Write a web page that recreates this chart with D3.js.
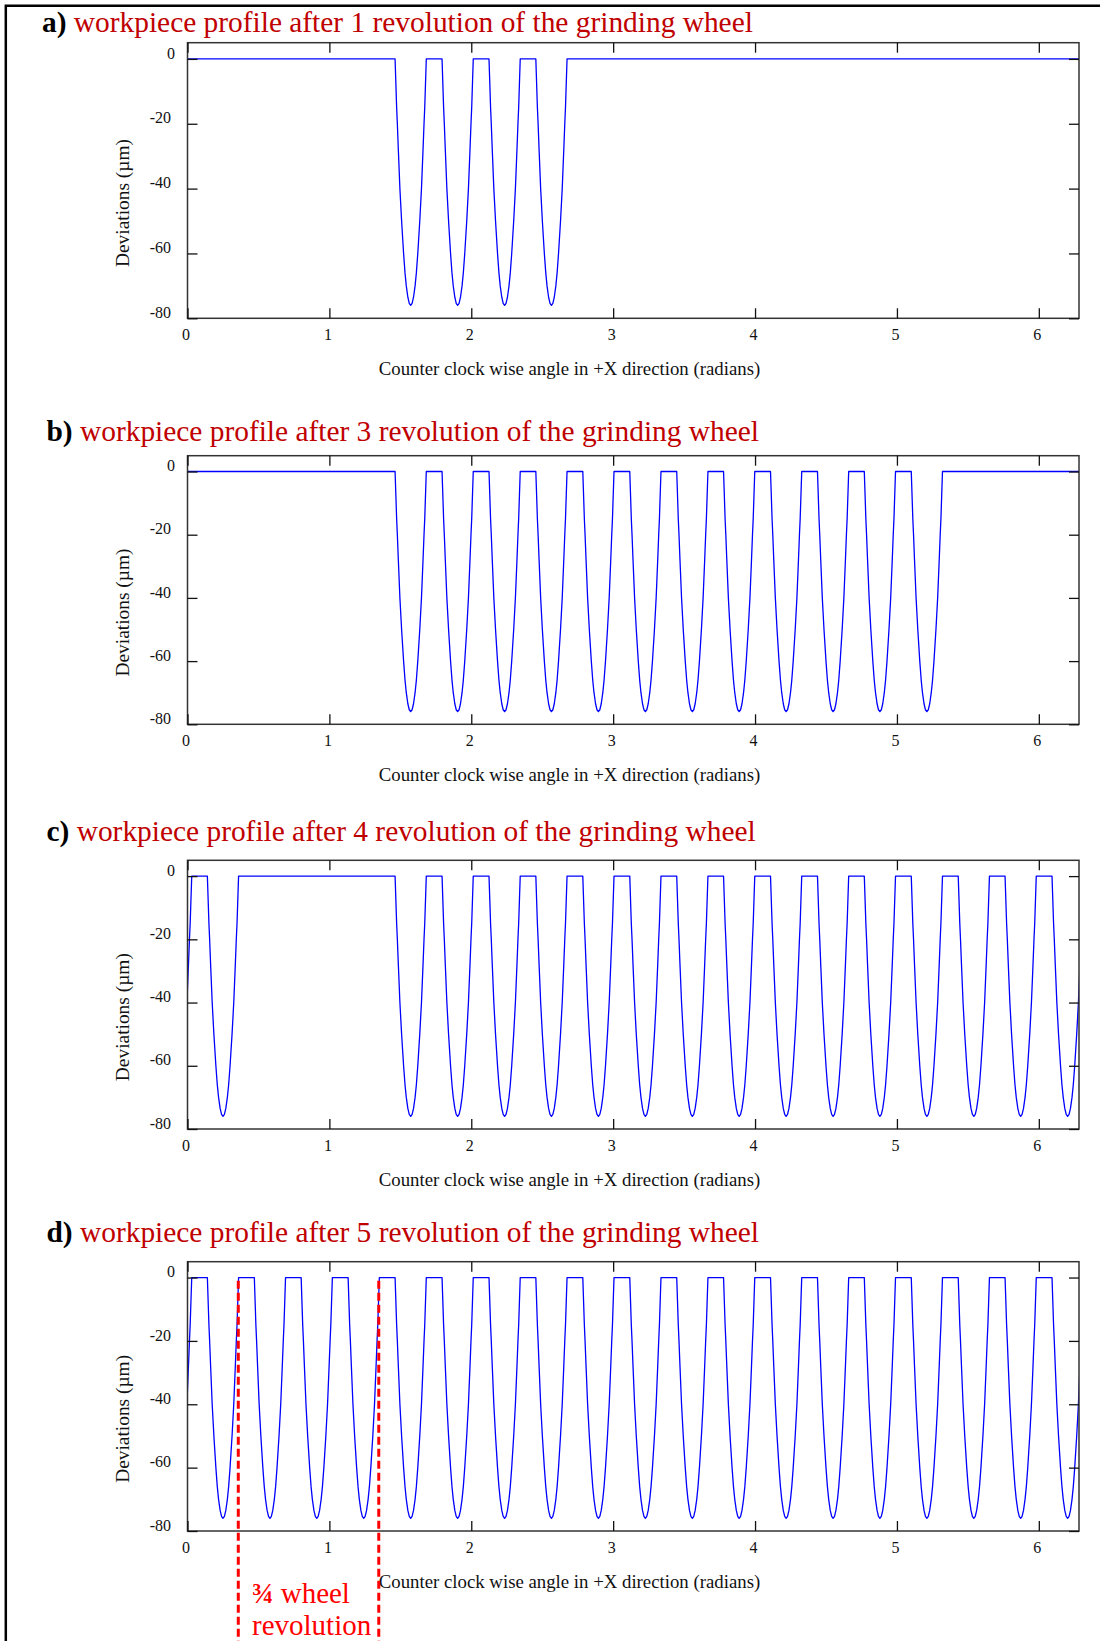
<!DOCTYPE html>
<html>
<head>
<meta charset="utf-8">
<script src="https://cdn.jsdelivr.net/npm/d3@7"></script>
<style>
  html, body { margin: 0; padding: 0; background: #fff; }
  svg { display: block; }
  text { font-family: "Liberation Serif", "Times New Roman", serif; }
</style>
</head>
<body>
<script>
const TAU = 2 * Math.PI;

// Axis ticks
const angleTicks = [0, 1, 2, 3, 4, 5, 6];
const deviationTicks = [0, -20, -40, -60, -80];

// Panel headings
const panelLetters = ["a)", "b)", "c)", "d)"];
const wheelRevolutions = [1, 3, 4, 5];

// Shape of one cut left by the wheel: [angle offset from cut centre (rad), deviation (µm)]
const dipProfile = [
  [-0.110, 0], [-0.099, -15], [-0.094, -20], [-0.087, -28], [-0.076, -40],
  [-0.064, -50], [-0.050, -60], [-0.040, -66], [-0.031, -70], [-0.020, -73.5],
  [-0.010, -75.4], [0, -76], [0.010, -75.4], [0.020, -73.5], [0.031, -70],
  [0.040, -66], [0.050, -60], [0.064, -50], [0.076, -40], [0.087, -28],
  [0.094, -20], [0.099, -15], [0.110, 0]
];

// Cut centres (rad) on the workpiece after each number of wheel revolutions
const cutsA = [1.573, 1.904, 2.235, 2.565];
const cutsB = [1.573, 1.904, 2.235, 2.565, 2.896, 3.227, 3.558, 3.888, 4.219,
               4.550, 4.880, 5.211];
const cutsC = [0.250, 1.573, 1.904, 2.235, 2.565, 2.896, 3.227, 3.558, 3.888,
               4.219, 4.550, 4.880, 5.211, 5.542, 5.872, 6.203];
const cutsD = [0.250, 0.581, 0.911, 1.242, 1.573, 1.904, 2.235, 2.565, 2.896,
               3.227, 3.558, 3.888, 4.219, 4.550, 4.880, 5.211, 5.542, 5.872, 6.203];

// Angles of the dashed markers in panel d (rad)
const markerAngles = [0.358, 1.348];

const panels = [
  { letter: panelLetters[0], rev: wheelRevolutions[0], cuts: cutsA, titleX: 42,   titleY: 31.7,   top: 42.7,   bottom: 318.3 },
  { letter: panelLetters[1], rev: wheelRevolutions[1], cuts: cutsB, titleX: 46.5, titleY: 440.7,  top: 455.7,  bottom: 724.3 },
  { letter: panelLetters[2], rev: wheelRevolutions[2], cuts: cutsC, titleX: 46.5, titleY: 840.7,  top: 860.3,  bottom: 1129 },
  { letter: panelLetters[3], rev: wheelRevolutions[3], cuts: cutsD, titleX: 46.5, titleY: 1241.7, top: 1261.7, bottom: 1531 }
];

const W = 1100, H = 1641;
const plotLeft = 187.5, plotRight = 1079;
const tickLen = 10;
const frameColor = "#333";
const titleRed = "rgb(192,0,0)";
const serif = '"Liberation Serif", "Times New Roman", serif';

const svg = d3.select("body").append("svg")
  .attr("width", W).attr("height", H)
  .attr("viewBox", `0 0 ${W} ${H}`);

// Figure border (left and top edges)
svg.append("path")
  .attr("d", `M5.8,${H} V5.8 H${W}`)
  .attr("fill", "none").attr("stroke", "#000").attr("stroke-width", 2.5);

const x = d3.scaleLinear().domain([0, TAU]).range([plotLeft, plotRight]);

// Profile points for a set of cuts; the profile is periodic in angle,
// so each cut is repeated one turn earlier and later and the plot is clipped.
function profilePoints(cuts) {
  const pts = [[-TAU - 1, 0], [2 * TAU + 1, 0]];
  cuts.forEach(c => {
    [c - TAU, c, c + TAU].forEach(cc => {
      dipProfile.forEach(([o, v]) => pts.push([cc + o, v]));
    });
  });
  return pts.sort((a, b) => a[0] - b[0]);
}

const plainNumber = d => String(d);

panels.forEach((p, i) => {
  const y = d3.scaleLinear().domain([-80, 5]).range([p.bottom, p.top]);
  const g = svg.append("g");

  // Heading
  const title = g.append("text")
    .attr("x", p.titleX).attr("y", p.titleY)
    .attr("font-size", 29.4);
  title.append("tspan").attr("font-weight", "bold").attr("fill", "#000").text(p.letter + " ");
  title.append("tspan").attr("fill", titleRed)
    .text(`workpiece profile after ${p.rev} revolution of the grinding wheel`);

  // Clip for the profile curve
  const clipId = "clip" + i;
  svg.append("clipPath").attr("id", clipId)
    .append("rect")
    .attr("x", plotLeft).attr("y", p.top)
    .attr("width", plotRight - plotLeft).attr("height", p.bottom - p.top);

  const line = d3.line().x(d => x(d[0])).y(d => y(d[1]));
  g.append("path")
    .datum(profilePoints(p.cuts))
    .attr("clip-path", `url(#${clipId})`)
    .attr("d", line)
    .attr("fill", "none")
    .attr("stroke", "#0000ff")
    .attr("stroke-width", 1.3)
    .attr("stroke-linejoin", "round");

  // Frame
  g.append("rect")
    .attr("x", plotLeft).attr("y", p.top)
    .attr("width", plotRight - plotLeft).attr("height", p.bottom - p.top)
    .attr("fill", "none").attr("stroke", frameColor).attr("stroke-width", 1.5);

  // Inward ticks on all four sides
  const bottomAxis = d3.axisBottom(x).tickValues(angleTicks).tickSize(-tickLen).tickFormat(plainNumber);
  const topAxis = d3.axisTop(x).tickValues(angleTicks).tickSize(-tickLen).tickFormat("");
  const leftAxis = d3.axisLeft(y).tickValues(deviationTicks).tickSize(-tickLen).tickFormat(plainNumber);
  const rightAxis = d3.axisRight(y).tickValues(deviationTicks).tickSize(-tickLen).tickFormat("");

  const styleAxis = sel => {
    sel.attr("font-family", serif).attr("font-size", 16);
    sel.select(".domain").remove();
    sel.selectAll(".tick line").attr("stroke", "#111").attr("stroke-width", 1.3);
    sel.selectAll(".tick text")
      .attr("fill", "#111")
      .attr("font-family", serif)
      .attr("font-size", 16);
  };

  const gb = g.append("g").attr("transform", `translate(0,${p.bottom})`).call(bottomAxis).call(styleAxis);
  gb.selectAll(".tick text").attr("y", 22).attr("dy", 0).attr("dx", -2);

  g.append("g").attr("transform", `translate(0,${p.top})`).call(topAxis).call(styleAxis);

  const gl = g.append("g").attr("transform", `translate(${plotLeft},0)`).call(leftAxis).call(styleAxis);
  gl.selectAll(".tick text")
    .attr("x", d => d === 0 ? -12.5 : -16.5)
    .attr("dy", 0)
    .attr("y", -0.8);

  g.append("g").attr("transform", `translate(${plotRight},0)`).call(rightAxis).call(styleAxis);

  // Axis titles
  g.append("text")
    .attr("x", 569.5).attr("y", p.bottom + 57)
    .attr("text-anchor", "middle")
    .attr("font-size", 18.8).attr("fill", "#111")
    .text("Counter clock wise angle in +X direction (radians)");

  g.append("text")
    .attr("transform", `translate(128.5,${(p.top + p.bottom) / 2 + 22.5}) rotate(-90)`)
    .attr("text-anchor", "middle")
    .attr("font-size", 19.4).attr("fill", "#111")
    .text("Deviations (µm)");

  // Dashed markers spanning three cuts in the last panel
  if (i === 3) {
    const ann = svg.append("g");
    ann.selectAll("line.marker").data(markerAngles).join("line")
      .attr("class", "marker")
      .attr("x1", d => x(d)).attr("x2", d => x(d))
      .attr("y1", y(-1)).attr("y2", H)
      .attr("stroke", "#ff0000").attr("stroke-width", 3)
      .attr("stroke-dasharray", "8,4");

    const t1 = ann.append("text")
      .attr("x", 251.7).attr("y", 1602.7)
      .attr("font-size", 29).attr("fill", "#ff0000");
    t1.append("tspan").attr("font-weight", "bold").text("¾");
    t1.append("tspan").text(" wheel");

    ann.append("text")
      .attr("x", 252).attr("y", 1634.5)
      .attr("font-size", 29).attr("fill", "#ff0000")
      .text("revolution");
  }
});
</script>
</body>
</html>
